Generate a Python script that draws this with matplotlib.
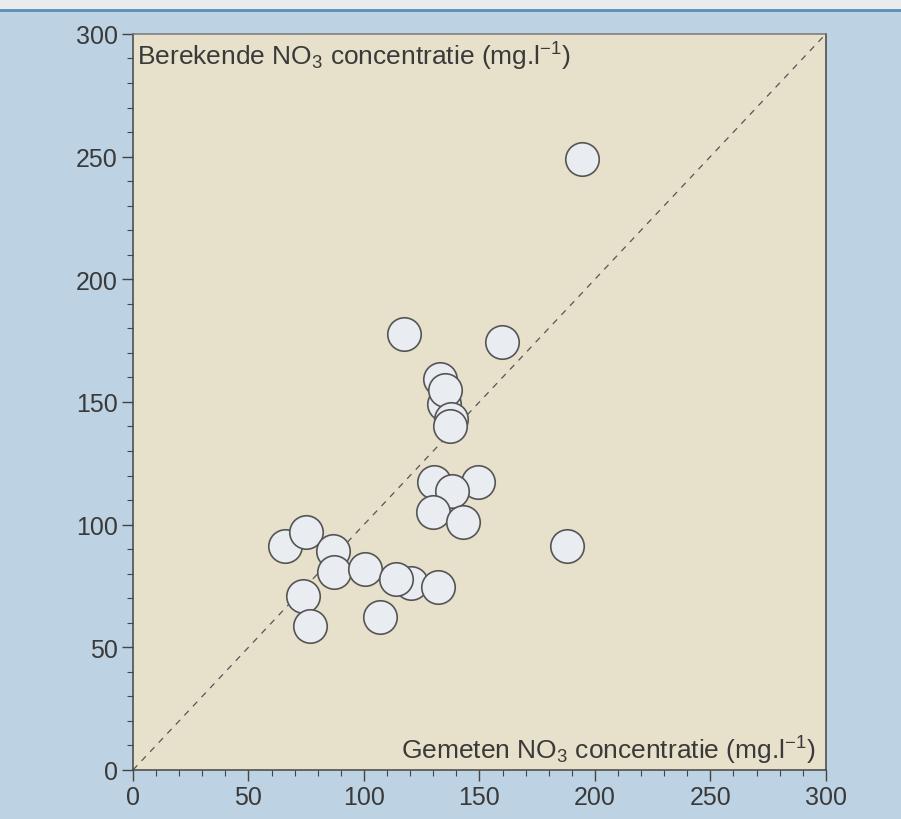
import matplotlib
matplotlib.use('Agg')
import matplotlib.pyplot as plt
from matplotlib.ticker import MultipleLocator

plt.rcParams['font.family'] = ['Liberation Sans', 'DejaVu Sans']
plt.rcParams['mathtext.fontset'] = 'custom'
plt.rcParams['mathtext.rm'] = 'Liberation Sans'
plt.rcParams['mathtext.default'] = 'regular'

# measured (x) vs calculated (y) NO3, mg/l -- read off the picture
# (order matters: later points are drawn on top)
gemeten = [117.5, 159.7, 133.0, 134.6, 134.9, 137.8, 137.1,
           130.4, 149.6, 138.3, 130.0, 142.8,
           65.7, 74.9, 86.6, 87.2, 100.4, 120.3, 113.8, 132.2,
           73.6, 76.8, 106.8, 194.2, 187.8]
berekend = [177.5, 174.4, 159.4, 149.2, 155.0, 143.1, 140.0,
            117.5, 117.5, 113.9, 105.3, 101.2,
            91.2, 96.9, 89.1, 80.6, 81.8, 76.4, 77.9, 74.6,
            70.8, 58.6, 62.2, 249.1, 91.2]
diag = [0, 300]
ticks = [0, 50, 100, 150, 200, 250, 300]

fig = plt.figure(figsize=(9.01, 8.2), dpi=100)
fig.patch.set_facecolor('#bdd3e3')
# pale strip + blue rule at the very top
fig.patches.append(plt.Rectangle((0, 0.988), 1, 0.012, transform=fig.transFigure,
                                 color='#e9ebec', zorder=0))
fig.lines.append(plt.Line2D([0, 1], [0.987, 0.987], transform=fig.transFigure,
                            color='#5a8dbd', lw=2.0))

ax = fig.add_axes([0.1476, 0.0598, 0.769, 0.8976])
ax.set_facecolor('#e7e0ca')
ax.plot(diag, diag, ls=(0, (5, 5)), color='#555555', lw=0.9, zorder=1)
ax.scatter(gemeten, berekend, s=580, facecolor='#e9ecf1', edgecolor='#555555',
           linewidths=1.2, zorder=3)

ax.set_xlim(0, 300)
ax.set_ylim(0, 300)
ax.set_xticks(ticks)
ax.set_yticks(ticks)
ax.xaxis.set_minor_locator(MultipleLocator(10))
ax.yaxis.set_minor_locator(MultipleLocator(10))
ax.tick_params(which='major', direction='out', length=8, width=1.0, colors='#444444',
               labelsize=18, labelcolor='#3a3a3a', pad=3)
ax.tick_params(which='minor', direction='out', length=4, width=0.8, colors='#444444')
for side in ax.spines:
    ax.spines[side].set_color('#444444')
    ax.spines[side].set_linewidth(1.1)
ax.spines['top'].set_color('#777777')

ax.text(0.006, 0.992, 'Berekende NO$_3$ concentratie (mg.l$^{-1}$)', transform=ax.transAxes,
        ha='left', va='top', fontsize=19, color='#3a3a3a')
ax.text(0.985, 0.006, 'Gemeten NO$_3$ concentratie (mg.l$^{-1}$)', transform=ax.transAxes,
        ha='right', va='bottom', fontsize=19, color='#3a3a3a')

fig.savefig('out.png', dpi=100, facecolor=fig.get_facecolor())
